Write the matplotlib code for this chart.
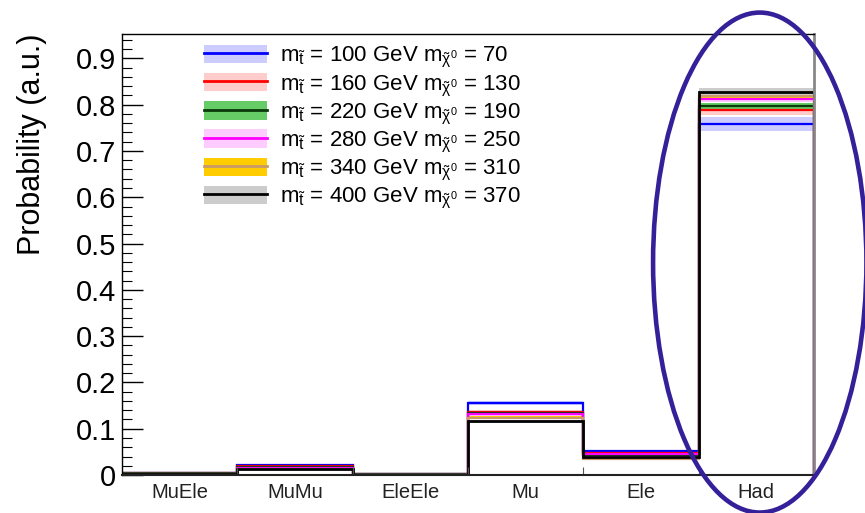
import numpy as np
import matplotlib
matplotlib.use('Agg')
import matplotlib.pyplot as plt
from matplotlib.patches import Ellipse, Patch
from matplotlib.lines import Line2D

plt.rcParams['font.family'] = ['Liberation Sans', 'DejaVu Sans']
plt.rcParams['mathtext.fontset'] = 'custom'
plt.rcParams['mathtext.rm'] = 'Liberation Sans'
plt.rcParams['mathtext.it'] = 'Liberation Sans'
plt.rcParams['mathtext.sf'] = 'Liberation Sans'

# decay channel categories
cats = ['MuEle', 'MuMu', 'EleEle', 'Mu', 'Ele', 'Had']

# (stop mass, neutralino mass) points
stop_mass = [100, 160, 220, 280, 340, 400]
lsp_mass = [70, 130, 190, 250, 310, 370]

# probability per channel for each mass point
p100 = [0.005, 0.022, 0.002, 0.155, 0.051, 0.758]
p160 = [0.004, 0.019, 0.002, 0.137, 0.047, 0.788]
p220 = [0.004, 0.017, 0.002, 0.133, 0.043, 0.797]
p280 = [0.003, 0.016, 0.001, 0.131, 0.045, 0.812]
p340 = [0.003, 0.014, 0.001, 0.124, 0.034, 0.819]
p400 = [0.002, 0.012, 0.001, 0.116, 0.040, 0.827]

# stat. uncertainty per channel
e100 = [0.001, 0.002, 0.001, 0.004, 0.003, 0.015]
e160 = [0.001, 0.002, 0.001, 0.003, 0.002, 0.010]
e220 = [0.001, 0.001, 0.001, 0.003, 0.002, 0.006]
e280 = [0.001, 0.001, 0.001, 0.003, 0.002, 0.006]
e340 = [0.001, 0.001, 0.001, 0.003, 0.002, 0.005]
e400 = [0.001, 0.001, 0.001, 0.003, 0.002, 0.008]

probs = [p100, p160, p220, p280, p340, p400]
errs = [e100, e160, e220, e280, e340, e400]
line_cols = ['#0000ff', '#ff0000', '#0a3a0a', '#ff00ff', '#c89a6a', '#000000']
band_cols = ['#ccccff', '#ffcccc', '#66cc66', '#ffccff', '#ffcc00', '#cccccc']

fig = plt.figure(figsize=(8.65, 5.13), dpi=100)
ax = fig.add_axes([0.141, 0.074, 0.800, 0.860])

edges = np.arange(len(cats) + 1)

# error bands first, then the histogram outlines on top
for p, e, bc in zip(probs, errs, band_cols):
    p = np.array(p); e = np.array(e)
    ax.stairs(p + e, edges, baseline=p - e, fill=True, color=bc, lw=0)
for p, lc in zip(probs, line_cols):
    lw = 2.0 if lc == '#000000' else 1.6
    ax.stairs(p, edges, baseline=0, color=lc, lw=lw)

ax.set_xlim(0, 6)
ax.set_ylim(0, 0.953)
ax.set_xticks(edges[:-1] + 0.5)
ax.set_xticklabels(cats, fontsize=14.5, color='#222222')
ax.set_xticks(edges[1:-1], minor=True)
ax.tick_params(axis='x', which='major', length=0, pad=6)
ax.tick_params(axis='x', which='minor', direction='in', length=6, width=0.8, color='#555555')
ax.set_yticks(np.arange(0, 0.91, 0.1))
ax.set_yticklabels(['0'] + ['%.1f' % v for v in np.arange(0.1, 0.91, 0.1)], fontsize=21)
ax.set_yticks(np.arange(0, 0.951, 0.02), minor=True)
ax.tick_params(axis='y', which='major', direction='in', length=15, width=1.0, pad=4)
ax.tick_params(axis='y', which='minor', direction='in', length=7.5, width=0.8)
ax.set_ylabel('Probability (a.u.)', fontsize=22, loc='top')
ax.yaxis.set_label_coords(-0.108, 1.0)

for s in ['left', 'top']:
    ax.spines[s].set_linewidth(1.0)
ax.spines['bottom'].set_linewidth(1.5)
ax.spines['bottom'].set_color('#222222')
ax.spines['right'].set_linewidth(2.0)
ax.spines['right'].set_color('#888888')

handles = []
labels = []
for ms, ml, lc, bc in zip(stop_mass, lsp_mass, line_cols, band_cols):
    handles.append((Patch(facecolor=bc, edgecolor='none'),
                    Line2D([], [], color=lc, lw=2)))
    labels.append(r'$\mathrm{m}_{\tilde{\mathrm{t}}}$ = %d GeV $\mathrm{m}_{\tilde{\chi}^{0}}$ = %d' % (ms, ml))
ax.legend(handles, labels, loc='upper left', bbox_to_anchor=(0.119, 0.975),
          frameon=False, fontsize=16, handlelength=2.8, handleheight=0.9,
          labelspacing=0.12, handletextpad=0.6, borderpad=0, borderaxespad=0)

# highlight the hadronic channel
ax.add_patch(Ellipse((5.53, 0.459), 1.85, 1.08, fill=False,
                     edgecolor='#35209a', lw=3.3, clip_on=False, zorder=10))

fig.savefig('out.png', dpi=100)
